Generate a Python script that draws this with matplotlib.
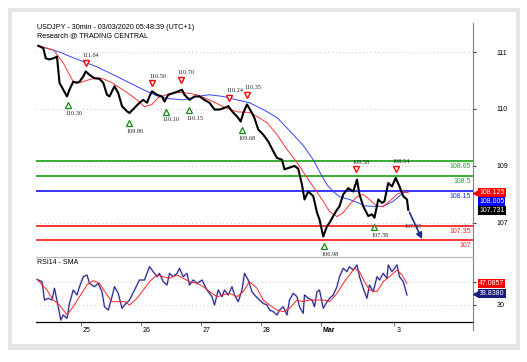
import matplotlib
matplotlib.use("Agg")
import matplotlib.pyplot as plt
import matplotlib.transforms as mtransforms
from matplotlib.patches import Rectangle
from matplotlib.lines import Line2D

plt.rcParams["font.family"] = ["Liberation Sans", "DejaVu Sans"]

# x = 30-min bar index, bar 0 = 25 Feb 00:00
price_bar = [-34, -30, -28, -25, -22, -19, -18, -17, -14, -11, -9, -6, -3, -1, 2, 4, 7, 11, 15, 18,
             21, 23, 27, 30, 33, 37, 39, 43, 47, 50, 53, 55, 57, 61, 65, 67, 70, 74, 78, 81,
             83, 87, 91, 95, 99, 103, 107, 111, 115, 118, 121, 125, 128, 130, 133, 137, 139, 142, 146, 150,
             154, 157, 161, 163, 167, 171, 174, 177, 179, 182, 186, 189, 191, 194, 197, 199, 202, 205, 207, 210,
             214, 218, 221, 223, 226, 230, 233, 235, 238, 241, 243, 246, 249, 252, 255, 258, 261, 262]
price_val = [111.11, 111.07, 110.89, 110.87, 110.89, 110.92, 110.69, 110.46, 110.34, 110.22,
             110.34, 110.48, 110.46, 110.48, 110.57, 110.66, 110.60, 110.54, 110.53, 110.46,
             110.25, 110.22, 110.40, 110.28, 110.05, 109.96, 109.93, 110.02, 110.11, 110.16,
             110.11, 110.22, 110.31, 110.25, 110.22, 110.13, 110.25, 110.28, 110.31, 110.34,
             110.25, 110.16, 110.22, 110.22, 110.16, 110.11, 109.99, 109.99, 110.02, 110.05,
             109.96, 109.87, 109.78, 109.93, 110.08, 109.93, 109.84, 109.64, 109.55, 109.43,
             109.26, 109.14, 109.11, 108.94, 108.97, 109.00, 108.95, 108.67, 108.41, 108.55,
             108.47, 108.18, 108.06, 107.76, 107.94, 108.00, 108.12, 108.23, 108.29, 108.50,
             108.61, 108.55, 108.76, 108.50, 108.29, 108.12, 108.15, 108.09, 108.41, 108.35,
             108.38, 108.70, 108.64, 108.79, 108.64, 108.47, 108.41, 108.23]

ma_fast_bar = [-34, -22, -14, -10, -6, -1, 6, 13, 18, 25, 30, 37, 45, 51, 57, 62, 69, 78, 82, 93, 103, 114,
               125, 135, 141, 149, 157, 165, 173, 183, 194, 199, 205, 210, 215, 221, 226, 231, 237, 242,
               247, 253, 258, 262]
ma_fast_val = [111.11, 111.04, 110.81, 110.64, 110.48, 110.46, 110.51, 110.55, 110.53, 110.46, 110.39,
               110.29, 110.16, 110.04, 110.08, 110.20, 110.25, 110.29, 110.29, 110.25, 110.16, 110.04,
               109.95, 109.94, 109.87, 109.76, 109.55, 109.29, 109.06, 108.73, 108.38, 108.20, 108.11,
               108.18, 108.32, 108.46, 108.50, 108.41, 108.29, 108.29, 108.38, 108.50, 108.55, 108.53]

ma_slow_bar = [-34, -17, -6, 13, 29, 39, 50, 61, 71, 82, 93, 103, 114, 125, 135, 146, 157, 167, 178, 186,
               191, 197, 202, 207, 215, 221, 227, 234, 242, 250, 258, 262]
ma_slow_val = [111.11, 111.00, 110.90, 110.74, 110.57, 110.46, 110.34, 110.23, 110.18, 110.16, 110.22,
               110.25, 110.22, 110.16, 110.11, 109.99, 109.85, 109.62, 109.36, 109.11, 108.90, 108.67,
               108.55, 108.46, 108.41, 108.36, 108.30, 108.29, 108.29, 108.38, 108.53, 108.55]

rsi_bar = [-35, -31, -29, -26, -23, -21, -18, -16, -14, -11, -9, -6, -3, -1, 2, 5, 7, 11, 14, 17,
           19, 22, 25, 27, 30, 33, 35, 39, 43, 47, 51, 55, 58, 61, 63, 66, 69, 71, 74, 77,
           79, 82, 85, 87, 90, 93, 97, 101, 105, 107, 110, 113, 115, 118, 121, 123, 126, 129, 131, 134,
           137, 139, 143, 146, 149, 151, 154, 157, 159, 162, 165, 167, 170, 173, 175, 178, 179, 182, 185, 187,
           189, 191, 194, 197, 199, 202, 205, 207, 210, 213, 215, 218, 221, 223, 226, 229, 231, 234, 237, 239,
           242, 245, 246, 249, 253, 255, 258, 261]
rsi_val = [52.3, 50.3, 34.3, 35.8, 34.3, 44.5, 28.5, 16.9, 21.3, 18.4, 31.4, 43.0, 38.7, 45.9, 54.6, 56.1,
           48.8, 45.9, 48.8, 41.6, 28.5, 25.6, 37.2, 45.9, 40.1, 27.1, 30.0, 34.3, 43.0, 51.7, 51.7, 63.3,
           59.0, 54.6, 57.5, 50.3, 47.4, 57.5, 54.6, 57.5, 61.9, 54.6, 57.5, 47.4, 51.7, 48.8, 51.7, 43.0,
           37.2, 30.0, 43.0, 37.2, 43.0, 38.7, 45.9, 38.7, 32.9, 43.0, 57.5, 51.7, 41.6, 38.7, 34.3, 31.4,
           30.0, 25.6, 24.2, 21.3, 25.6, 28.5, 21.3, 34.3, 40.1, 37.2, 28.5, 22.7, 38.7, 35.8, 34.3, 28.5,
           41.6, 43.0, 27.1, 32.9, 35.8, 38.7, 45.9, 54.6, 61.9, 59.0, 63.3, 60.4, 64.8, 54.6, 44.5, 35.8,
           47.4, 41.6, 54.6, 51.7, 57.5, 53.2, 64.8, 59.0, 64.8, 54.6, 50.3, 38.7]

rsi_sma_bar = [-35, -27, -22, -17, -11, -6, -1, 5, 10, 15, 21, 25, 30, 35, 39, 45, 50, 55, 61, 66, 71, 77,
               82, 87, 93, 98, 103, 109, 114, 119, 125, 130, 135, 141, 146, 151, 157, 162, 167, 173, 178,
               183, 189, 194, 199, 205, 210, 215, 219, 223, 227, 231, 237, 242, 247, 253, 257, 261]
rsi_sma_val = [52.3, 43.0, 34.3, 30.0, 21.3, 28.5, 37.2, 47.4, 51.2, 48.8, 38.7, 32.9, 32.9, 32.9, 30.0,
               35.8, 43.0, 50.3, 56.1, 54.6, 53.2, 56.1, 53.2, 50.3, 48.8, 45.9, 41.6, 37.2, 38.7, 40.1,
               37.2, 41.6, 50.3, 44.5, 34.3, 30.0, 25.6, 24.2, 27.1, 34.3, 32.9, 34.3, 34.3, 34.3, 32.9,
               40.1, 48.8, 56.1, 61.9, 59.0, 50.3, 43.0, 41.6, 50.3, 54.6, 60.4, 56.1, 48.8]

day_ticks = [0, 48, 96, 144, 192, 251]
day_labels = ["25", "26", "27", "28", "Mar", "3"]

price_ticks = [108, 109, 110, 111]
price_tick_labels = ["107", "109", "110", "111"]

level_vals = [109.08, 108.82, 108.56, 107.95, 107.70]
level_labels = ["108.65", "108.5", "108.15", "107.35", "107"]
level_colors = ["#009900", "#009900", "#0000ff", "#ff0000", "#ff0000"]
level_text_colors = ["#22aa22", "#22aa22", "#2233ff", "#ff2222", "#ff2222"]

high_bar = [4, 57, 80, 119, 133, 220, 252]
high_val = [110.67, 110.31, 110.37, 110.06, 110.11, 108.80, 108.81]
high_labels = ["111.04", "110.50", "110.70", "110.24", "110.35", "108.58", "108.54"]

low_bar = [-10, 39, 68, 87, 129, 195, 235]
low_val = [110.20, 109.88, 110.09, 110.11, 109.76, 107.73, 108.06]
low_labels = ["110.30", "109.86", "110.10", "110.15", "109.68", "106.98", "107.38"]

forecast_bar = [262, 274]
forecast_val = [108.23, 107.67]
forecast_label = "107.45"

price_tags = ["108.125", "108.005", "107.731"]
price_tag_vals = [108.53, 108.37, 108.22]
price_tag_colors = ["#ff0000", "#0000ff", "#000000"]

rsi_tags = ["47.0857", "38.8380"]
rsi_tag_vals = [48.3, 39.6]
rsi_tag_colors = ["#ff0000", "#1a1a80"]

fig = plt.figure(figsize=(5.27, 3.62), dpi=100)
fig.patch.set_facecolor("white")
fig.patches.append(Rectangle((0.0152, 0.0331), 0.9715, 0.9448, transform=fig.transFigure,
                             fc="#e6e6e6", ec="none", zorder=-10))
fig.patches.append(Rectangle((0.0228, 0.0497), 0.9563, 0.9172, transform=fig.transFigure,
                             fc="white", ec="none", zorder=-9))

ax = fig.add_axes([0.0683, 0.29, 0.8292, 0.6464])
ax2 = fig.add_axes([0.0683, 0.1105, 0.8292, 0.1795], sharex=ax)
for a in (ax, ax2):
    a.patch.set_visible(False)
    a.spines["left"].set_visible(False)
    a.spines["right"].set_color("#808080")
    a.spines["right"].set_linewidth(0.8)
    a.yaxis.tick_right()
    a.tick_params(axis="y", length=2, width=0.8, color="#404040", pad=15, labelsize=5)

ax.spines["top"].set_visible(False)
ax.spines["bottom"].set_color("#b8b8b8")
ax2.spines["top"].set_color("#b8b8b8")
ax2.spines["bottom"].set_color("#000000")
ax2.spines["bottom"].set_linewidth(0.9)

# main panel
ax.set_xlim(-35.8, 313.8)
ax.set_ylim(107.40, 111.51)
ax.set_yticks(price_ticks)
ax.set_yticklabels(price_tick_labels)
ax.tick_params(axis="x", bottom=False, labelbottom=False)
for v in price_ticks:
    ax.axhline(v, color="#c8c8c8", lw=0.7, ls=(0, (1, 3)), zorder=0)

blend = mtransforms.blended_transform_factory(ax.transAxes, ax.transData)
for v, lab, c, tc in zip(level_vals, level_labels, level_colors, level_text_colors):
    ax.axhline(v, color=c, lw=1.1, zorder=1)
    ax.annotate(lab, xy=(0.995, v), xycoords=blend, xytext=(0, -1.5), textcoords="offset points",
                ha="right", va="top", fontsize=5, color=tc)

ax.plot(ma_slow_bar, ma_slow_val, color="#3344ff", lw=0.7, zorder=2)
ax.plot(ma_fast_bar, ma_fast_val, color="#ff3333", lw=0.7, zorder=2)
ax.plot(price_bar, price_val, color="black", lw=1.5, zorder=3)

ax.annotate("", xy=(forecast_bar[1], forecast_val[1]), xytext=(forecast_bar[0], forecast_val[0]),
            arrowprops=dict(arrowstyle="-|>", color="#1c2a8c", lw=1.2, mutation_scale=9), zorder=4)
ax.annotate(forecast_label, xy=(forecast_bar[1], forecast_val[1]), xytext=(-7, 11),
            textcoords="offset points", ha="center", va="center", fontsize=4.5,
            family="Liberation Serif", color="#333333", zorder=3)

up_mark = mtransforms.offset_copy(ax.transData, fig=fig, x=0, y=5.8, units="points")
up_text = mtransforms.offset_copy(ax.transData, fig=fig, x=4, y=11, units="points")
dn_mark = mtransforms.offset_copy(ax.transData, fig=fig, x=0, y=-5.5, units="points")
dn_text = mtransforms.offset_copy(ax.transData, fig=fig, x=4, y=-11.5, units="points")
ax.plot(high_bar, high_val, "v", ms=5, mfc="white", mec="#ff0000", mew=1.0,
        transform=up_mark, zorder=5, clip_on=False)
ax.plot(low_bar, low_val, "^", ms=5, mfc="white", mec="#118811", mew=0.9,
        transform=dn_mark, zorder=5, clip_on=False)
for b, v, lab in zip(high_bar, high_val, high_labels):
    ax.text(b, v, lab, transform=up_text, ha="center", va="center", fontsize=4.5,
            family="Liberation Serif", color="#222222")
for b, v, lab in zip(low_bar, low_val, low_labels):
    ax.text(b, v, lab, transform=dn_text, ha="center", va="center", fontsize=4.5,
            family="Liberation Serif", color="#222222")

for lab, v, c in zip(price_tags, price_tag_vals, price_tag_colors):
    ax.text(1.014, v, lab, transform=blend, ha="left", va="center", fontsize=5, color="white",
            bbox=dict(boxstyle="square,pad=0.15", fc=c, ec="none"), zorder=6)
ax.plot([1.006], [price_tag_vals[0]], "<", ms=4, color=price_tag_colors[0],
        transform=blend, clip_on=False, zorder=6)

# RSI panel
ax2.set_ylim(15.2, 71.7)
ax2.set_yticks([30, 50])
for v in (30, 50):
    ax2.axhline(v, color="#c8c8c8", lw=0.7, ls=(0, (1, 3)), zorder=0)
ax2.plot(rsi_bar, rsi_val, color="#9999dd", lw=1.6, alpha=0.5, zorder=2)
ax2.plot(rsi_bar, rsi_val, color="#1a1a80", lw=0.7, zorder=3)
ax2.plot(rsi_sma_bar, rsi_sma_val, color="#ff2222", lw=0.7, zorder=4)

blend2 = mtransforms.blended_transform_factory(ax2.transAxes, ax2.transData)
for lab, v, c in zip(rsi_tags, rsi_tag_vals, rsi_tag_colors):
    ax2.text(1.014, v, lab, transform=blend2, ha="left", va="center", fontsize=5, color="white",
             bbox=dict(boxstyle="square,pad=0.15", fc=c, ec="none"), zorder=6)
ax2.plot([1.006], [rsi_tag_vals[1]], "<", ms=4, color=rsi_tag_colors[1],
         transform=blend2, clip_on=False, zorder=6)

ax2.set_xticks(day_ticks)
ax2.set_xticklabels(day_labels)
ax2.tick_params(axis="x", length=3, width=0.6, color="#606060", pad=0.5, labelsize=5)
shift = mtransforms.ScaledTranslation(2 / 100, 0, fig.dpi_scale_trans)
for lbl in ax2.get_xticklabels():
    lbl.set_horizontalalignment("left")
    lbl.set_transform(lbl.get_transform() + shift)
    if lbl.get_text() == "Mar":
        lbl.set_fontweight("bold")

fig.add_artist(Line2D([0.8975, 0.8975], [0.1105, 0.0884], transform=fig.transFigure,
                      color="#808080", lw=0.8))

fig.text(0.0702, 0.9254, "USDJPY - 30min - 03/03/2020 05:48:39 (UTC+1)", fontsize=5.2,
         va="center", ha="left")
fig.text(0.0702, 0.9006, "Research @ TRADING CENTRAL", fontsize=5.2, va="center", ha="left")
fig.text(0.0702, 0.2735, "RSI14 - SMA", fontsize=5, va="center", ha="left")

fig.savefig("out.png", dpi=100)
